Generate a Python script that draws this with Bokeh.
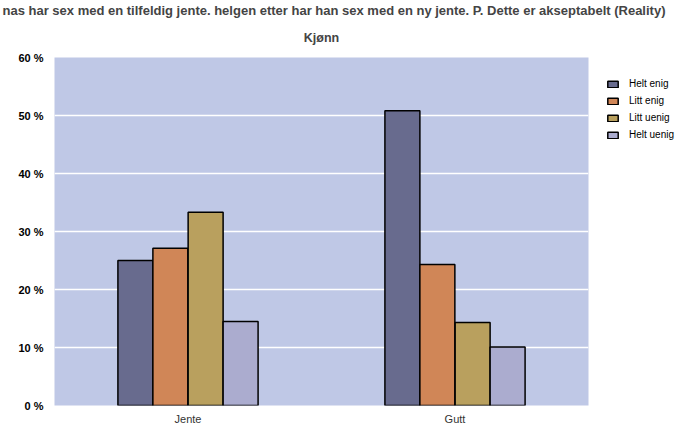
from bokeh.plotting import figure
from bokeh.models import (FactorRange, Range1d, FixedTicker, Legend, LegendItem,
                          Title, ColumnDataSource)
from bokeh.transform import dodge
from bokeh.embed import file_html
from bokeh.resources import INLINE

# ---- data ----
categories = ["Jente", "Gutt"]
series_names = ["Helt enig", "Litt enig", "Litt uenig", "Helt uenig"]
helt_enig = [25.0, 50.8]
litt_enig = [27.1, 24.3]
litt_uenig = [33.3, 14.3]
helt_uenig = [14.5, 10.1]
y_ticks = [0, 10, 20, 30, 40, 50, 60]
y_tick_labels = ["0 %", "10 %", "20 %", "30 %", "40 %", "50 %", "60 %"]
main_title = ("nas har sex med en tilfeldig jente. helgen etter har han sex med en ny jente. "
              "P. Dette er akseptabelt (Reality)")
sub_title = "Kjønn"

colors = ["#686b8e", "#d08657", "#b9a05e", "#abaccf"]
offsets = [-0.197, -0.066, 0.066, 0.197]
bar_width = 0.131

source = ColumnDataSource(dict(cat=categories, s0=helt_enig, s1=litt_enig,
                               s2=litt_uenig, s3=helt_uenig))

p = figure(x_range=FactorRange(*categories), y_range=Range1d(0, 60),
           frame_width=534, frame_height=348, output_backend="svg", toolbar_location=None,
           min_border_left=54, min_border_right=60, min_border_top=57,
           min_border_bottom=22)

p.title.text = main_title
p.title.align = "left"
p.title.vertical_align = "top"
p.title.offset = -52
p.title.text_font = "Liberation Sans"
p.title.text_font_size = "13px"
p.title.text_font_style = "bold"
p.title.standoff = 0

t2 = Title(text=sub_title, align="center", vertical_align="top", text_font="Liberation Sans",
           text_font_size="12.5px", text_font_style="bold", standoff=22)
p.add_layout(t2, "above")

p.background_fill_color = "#bfc8e6"
p.border_fill_color = "white"
p.outline_line_color = None

renderers = []
for i, key in enumerate(["s0", "s1", "s2", "s3"]):
    r = p.vbar(x=dodge("cat", offsets[i], range=p.x_range), top=key, width=bar_width,
               source=source, fill_color=colors[i], line_color="black", line_width=1.5)
    renderers.append(r)

legend = Legend(items=[LegendItem(label=series_names[i], renderers=[renderers[i]])
                       for i in range(4)],
                location="top_left", margin=18, padding=0, spacing=0,
                label_height=17, glyph_width=13, glyph_height=8, label_standoff=10,
                border_line_color=None, background_fill_alpha=0,
                label_text_font="Liberation Sans", label_text_font_size="10px",
                label_text_color="black")
p.add_layout(legend, "right")

p.ygrid.grid_line_color = "white"
p.ygrid.grid_line_width = 1.5
p.xgrid.grid_line_color = None

p.yaxis.ticker = FixedTicker(ticks=y_ticks)
p.yaxis.major_label_overrides = dict(zip(y_ticks, y_tick_labels))
p.yaxis.axis_line_color = None
p.yaxis.major_tick_line_color = None
p.yaxis.minor_tick_line_color = None
p.yaxis.major_label_text_font = "Liberation Sans"
p.yaxis.major_label_text_font_style = "bold"
p.yaxis.major_label_text_font_size = "11px"
p.yaxis.major_label_text_color = "black"
p.yaxis.major_label_standoff = 5

p.xaxis.axis_line_color = None
p.xaxis.major_tick_line_color = None
p.xaxis.minor_tick_line_color = None
p.xaxis.major_tick_out = 0
p.xaxis.major_label_text_font = "Liberation Sans"
p.xaxis.major_label_text_font_size = "11px"
p.xaxis.major_label_text_color = "#333333"
p.xaxis.major_label_standoff = 7

open("out.html", "w").write(file_html(p, INLINE))
